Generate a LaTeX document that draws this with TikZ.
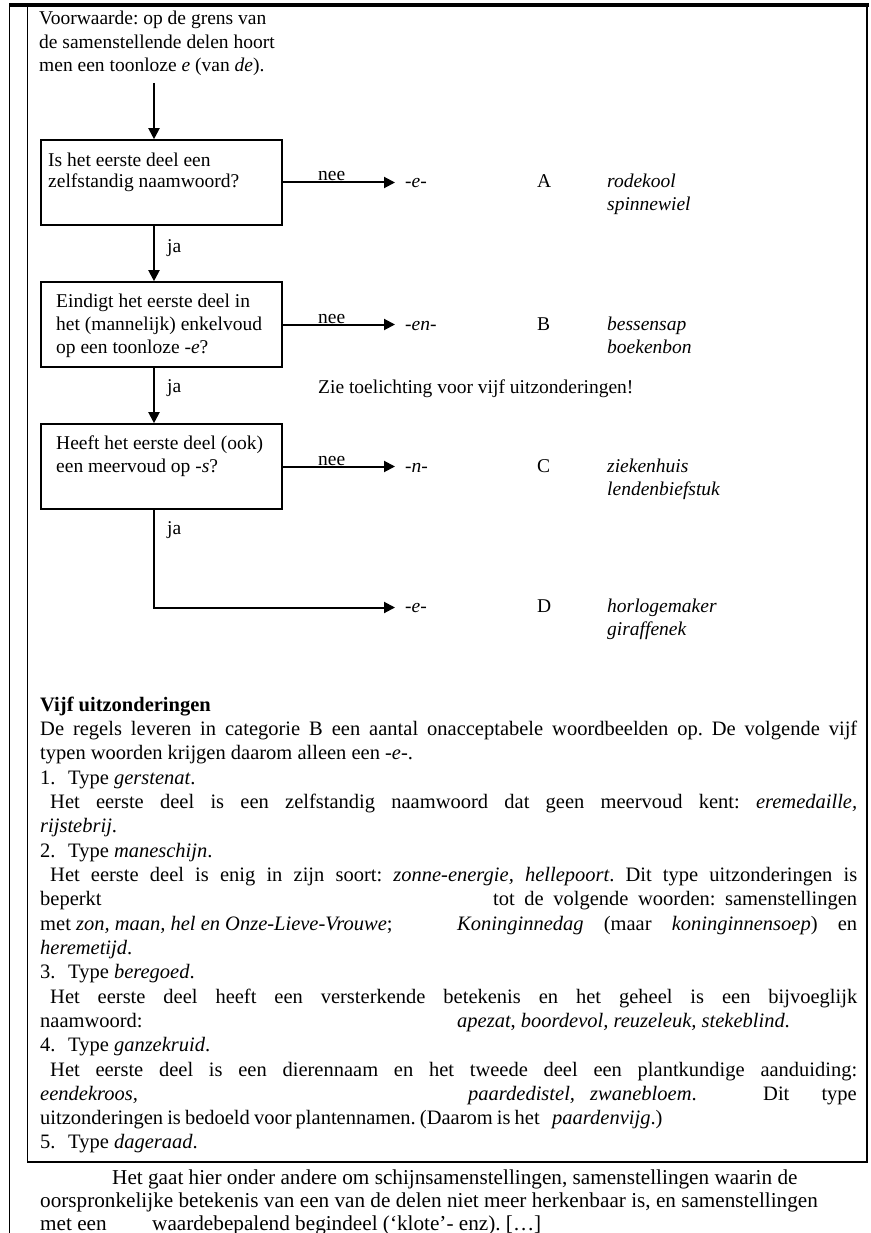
\documentclass[tikz,border=0pt]{standalone}
\usepackage{fontspec}
\setmainfont{Liberation Serif}
\usetikzlibrary{arrows.meta}
\frenchspacing
\newcommand\bodyfs{\fontsize{19.5}{23}\selectfont}
\newcommand\midfs{\fontsize{20.5}{24}\selectfont}
\newcommand\lowfs{\fontsize{21.2}{24}\selectfont}
\newcommand\tline[4]{\node[txt] (#1) at (#2,#3) {#4};}
\newcommand\mline[4]{\node[mtxt] (#1) at (#2,#3) {#4};}
\newcommand\mlinee[4]{\node[mtxte] (#1) at (#2,#3) {#4};}
\newcommand\bline[4]{\node[btxt] (#1) at (#2,#3) {#4};}
\begin{document}
\begin{tikzpicture}[x=1pt,y=-1pt,
  txt/.style={anchor=base west,inner sep=0pt,font=\bodyfs},
  mtxt/.style={anchor=base west,inner sep=0pt,font=\midfs},
  mtxte/.style={anchor=base east,inner sep=0pt,font=\midfs},
  btxt/.style={anchor=base west,inner sep=0pt,font=\lowfs},
  qbox/.style={draw,line width=1.6pt,minimum width=241pt,minimum height=85pt,inner sep=0pt},
  arr/.style={line width=2pt,-{Triangle[length=11pt,width=11pt]}},
  frameline/.style={line width=1pt}]
\useasboundingbox (0,0) rectangle (870,1233);
\fill[white] (0,0) rectangle (870,1233);
% frame
\draw[frameline] (9,5) -- (9,1233);
\draw[frameline] (27,5) -- (27,1162);
\draw[line width=1.5pt] (867,5) -- (867,1162);
\draw[line width=2pt] (27,1162) -- (868,1162);
\draw[line width=4pt] (9,5) -- (869,5);

% condition text
\tline{c1}{39}{25}{Voorwaarde: op de grens van}
\tline{c2}{39}{48.5}{de samenstellende delen hoort}
\tline{c3}{39}{72}{men een toonloze \textit{e} (van \textit{de}).}

% boxes
\node[qbox] (qa) at (161.5,182.5) {};
\node[qbox] (qb) at (161.5,324.5) {};
\node[qbox] (qc) at (161.5,466.5) {};
\tline{qa1}{48}{167}{Is het eerste deel een}
\tline{qa2}{48}{188}{zelfstandig naamwoord?}
\tline{qb1}{56}{307}{Eindigt het eerste deel in}
\tline{qb2}{56}{330}{het (mannelijk) enkelvoud}
\tline{qb3}{56}{353}{op een toonloze -\textit{e}?}
\tline{qc1}{56}{449}{Heeft het eerste deel (ook)}
\tline{qc2}{56}{472}{een meervoud op -\textit{s}?}

% results
\tline{ra}{405}{188}{\textit{-e-}}
\tline{rb}{405}{330}{\textit{-en-}}
\tline{rc}{405}{472}{\textit{-n-}}
\tline{rd}{405}{612}{\textit{-e-}}
\tline{la}{537}{188}{A}
\tline{lb}{537}{330}{B}
\tline{lc}{537}{472}{C}
\tline{ld}{537}{612}{D}
\tline{ea1}{607}{188}{\textit{rodekool}}
\tline{ea2}{607}{211}{\textit{spinnewiel}}
\tline{eb1}{607}{330}{\textit{bessensap}}
\tline{eb2}{607}{353}{\textit{boekenbon}}
\tline{ec1}{607}{472}{\textit{ziekenhuis}}
\tline{ec2}{607}{495}{\textit{lendenbiefstuk}}
\tline{ed1}{607}{612}{\textit{horlogemaker}}
\tline{ed2}{607}{635}{\textit{giraffenek}}
\tline{zie}{318}{393}{Zie toelichting voor vijf uitzonderingen!}

% labels
\tline{na}{318}{181}{nee}
\tline{nb}{318}{323}{nee}
\tline{nc}{318}{465}{nee}
\tline{ja1}{167}{252}{ja}
\tline{ja2}{167}{392}{ja}
\tline{ja3}{167}{534}{ja}

% connectors
\coordinate (vx) at (154,0);
\coordinate (start) at (154,83);
\draw[arr] (start) -- (qa.north -| vx);
\draw[arr] (qa.south -| vx) -- (qb.north -| vx);
\draw[arr] (qb.south -| vx) -- (qc.north -| vx);
\draw[arr,shorten >=10pt] (qc.south -| vx) |- (rd.west);
\draw[arr,shorten >=10pt] (qa.east) -- (qa.east -| ra.west);
\draw[arr,shorten >=10pt] (qb.east) -- (qb.east -| rb.west);
\draw[arr,shorten >=10pt] (qc.east) -- (qc.east -| rc.west);

% exceptions text
\mline{l0}{40}{711}{\textbf{Vijf uitzonderingen}}
\mline{l1}{40}{735}{\makebox[817pt][s]{De regels leveren in categorie B een aantal onacceptabele woordbeelden op. De volgende vijf}}
\mline{l2}{40}{759}{typen woorden krijgen daarom alleen een \textit{-e-}.}
\mline{l3}{40}{784}{\makebox[28pt][l]{1.}Type \textit{gerstenat}.}
\mline{l4}{50}{808}{\makebox[807pt][s]{Het eerste deel is een zelfstandig naamwoord dat geen meervoud kent: \textit{eremedaille,}}}
\mline{l5}{40}{832}{\textit{rijstebrij}.}
\mline{l6}{40}{857}{\makebox[28pt][l]{2.}Type \textit{maneschijn}.}
\mline{l7}{50}{881}{\makebox[807pt][s]{Het eerste deel is enig in zijn soort: \textit{zonne-energie, hellepoort}. Dit type uitzonderingen is}}
\mline{l8a}{40}{905}{beperkt}
\mline{l8b}{493}{905}{\makebox[364pt][s]{tot de volgende woorden: samenstellingen}}
\mline{l9a}{40}{930}{met \textit{zon, maan, hel en Onze-Lieve-Vrouwe};}
\mline{l9b}{457}{930}{\makebox[400pt][s]{\textit{Koninginnedag} (maar \textit{koninginnensoep}) en}}
\mline{l10}{40}{954}{\textit{heremetijd}.}
\mline{l11}{40}{978}{\makebox[28pt][l]{3.}Type \textit{beregoed}.}
\mline{l12}{50}{1003}{\makebox[807pt][s]{Het eerste deel heeft een versterkende betekenis en het geheel is een bijvoeglijk}}
\mline{l13a}{40}{1027}{naamwoord:}
\mline{l13b}{457}{1027}{\textit{apezat}, \textit{boordevol, reuzeleuk, stekeblind}.}
\mline{l14}{40}{1051}{\makebox[28pt][l]{4.}Type \textit{ganzekruid}.}
\mline{l15}{50}{1076}{\makebox[807pt][s]{Het eerste deel is een dierennaam en het tweede deel een plantkundige aanduiding:}}
\mline{l16a}{40}{1100}{\textit{eendekroos,}}
\mline{l16b}{468}{1100}{\textit{paardedistel,}}
\mline{l16c}{590}{1100}{\textit{zwanebloem}.}
\mline{l16d}{763}{1100}{Dit}
\mlinee{l16e}{857}{1100}{type}
\mline{l17a}{40}{1124}{\spaceskip=0.2em uitzonderingen is bedoeld voor plantennamen. (Daarom is het}
\mline{l17b}{552}{1124}{\textit{paardenvijg}.)}
\mline{l18}{40}{1148}{\makebox[28pt][l]{5.}Type \textit{dageraad}.}

% text below the box
\bline{b1}{112}{1184}{Het gaat hier onder andere om schijnsamenstellingen, samenstellingen waarin de}
\bline{b2}{40}{1207}{oorspronkelijke betekenis van een van de delen niet meer herkenbaar is, en samenstellingen}
\bline{b3a}{40}{1230}{met een}
\bline{b3b}{152}{1230}{waardebepalend begindeel (‘klote’- enz). […]}
\end{tikzpicture}
\end{document}
